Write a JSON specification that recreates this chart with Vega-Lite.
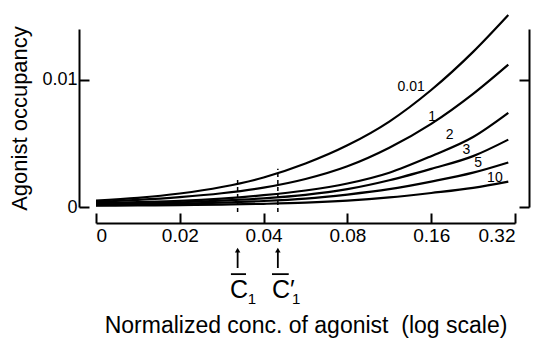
{
  "$schema": "https://vega.github.io/schema/vega-lite/v6.json",
  "autosize": "none",
  "width": 419,
  "height": 178,
  "padding": {"left": 96, "top": 29, "right": 21, "bottom": 137},
  "config": {
    "font": "Liberation Sans",
    "view": {"stroke": null},
    "axis": {"grid": false, "domainColor": "black", "tickColor": "black", "labelColor": "black", "titleColor": "black", "domainWidth": 2, "tickWidth": 2, "titleFontWeight": "normal"}
  },
  "resolve": {"axis": {"x": "independent", "y": "independent"}},
  "datasets": {
    "curves": [
      {"k": "0.01", "u": 0, "occ": 0.0005}, {"k": "0.01", "u": 0.5, "occ": 0.00072}, {"k": "0.01", "u": 1, "occ": 0.00106}, {"k": "0.01", "u": 1.5, "occ": 0.00157}, {"k": "0.01", "u": 2, "occ": 0.00232}, {"k": "0.01", "u": 2.5, "occ": 0.00342}, {"k": "0.01", "u": 3, "occ": 0.00485}, {"k": "0.01", "u": 3.5, "occ": 0.00672}, {"k": "0.01", "u": 4, "occ": 0.0092}, {"k": "0.01", "u": 4.5, "occ": 0.0122}, {"k": "0.01", "u": 4.92, "occ": 0.0151},
      {"k": "1", "u": 0, "occ": 0.0004}, {"k": "1", "u": 0.5, "occ": 0.00056}, {"k": "1", "u": 1, "occ": 0.00078}, {"k": "1", "u": 1.5, "occ": 0.00108}, {"k": "1", "u": 2, "occ": 0.00152}, {"k": "1", "u": 2.5, "occ": 0.0022}, {"k": "1", "u": 3, "occ": 0.0032}, {"k": "1", "u": 3.5, "occ": 0.00466}, {"k": "1", "u": 4, "occ": 0.00654}, {"k": "1", "u": 4.5, "occ": 0.0089}, {"k": "1", "u": 4.92, "occ": 0.0112},
      {"k": "2", "u": 0, "occ": 0.0003}, {"k": "2", "u": 0.5, "occ": 0.00038}, {"k": "2", "u": 1, "occ": 0.00048}, {"k": "2", "u": 1.5, "occ": 0.00066}, {"k": "2", "u": 2, "occ": 0.00093}, {"k": "2", "u": 2.5, "occ": 0.0013}, {"k": "2", "u": 3, "occ": 0.00185}, {"k": "2", "u": 3.5, "occ": 0.0027}, {"k": "2", "u": 4, "occ": 0.0040}, {"k": "2", "u": 4.5, "occ": 0.0055}, {"k": "2", "u": 4.92, "occ": 0.0074},
      {"k": "3", "u": 0, "occ": 0.0002}, {"k": "3", "u": 0.5, "occ": 0.00027}, {"k": "3", "u": 1, "occ": 0.00037}, {"k": "3", "u": 1.5, "occ": 0.0005}, {"k": "3", "u": 2, "occ": 0.00068}, {"k": "3", "u": 2.5, "occ": 0.00095}, {"k": "3", "u": 3, "occ": 0.0014}, {"k": "3", "u": 3.5, "occ": 0.0021}, {"k": "3", "u": 4, "occ": 0.0030}, {"k": "3", "u": 4.5, "occ": 0.0040}, {"k": "3", "u": 4.92, "occ": 0.0053},
      {"k": "5", "u": 0, "occ": 0.00015}, {"k": "5", "u": 0.5, "occ": 0.0002}, {"k": "5", "u": 1, "occ": 0.00027}, {"k": "5", "u": 1.5, "occ": 0.00035}, {"k": "5", "u": 2, "occ": 0.00047}, {"k": "5", "u": 2.5, "occ": 0.00066}, {"k": "5", "u": 3, "occ": 0.00098}, {"k": "5", "u": 3.5, "occ": 0.0014}, {"k": "5", "u": 4, "occ": 0.0020}, {"k": "5", "u": 4.5, "occ": 0.0027}, {"k": "5", "u": 4.92, "occ": 0.0035},
      {"k": "10", "u": 0, "occ": 0.0001}, {"k": "10", "u": 0.5, "occ": 0.00012}, {"k": "10", "u": 1, "occ": 0.00015}, {"k": "10", "u": 1.5, "occ": 0.00019}, {"k": "10", "u": 2, "occ": 0.00025}, {"k": "10", "u": 2.5, "occ": 0.00034}, {"k": "10", "u": 3, "occ": 0.0005}, {"k": "10", "u": 3.5, "occ": 0.00075}, {"k": "10", "u": 4, "occ": 0.0011}, {"k": "10", "u": 4.5, "occ": 0.0015}, {"k": "10", "u": 4.92, "occ": 0.002}
    ],
    "curveLabels": [
      {"u": 3.76, "occ": 0.00945, "text": "0.01"},
      {"u": 4.01, "occ": 0.0071, "text": "1"},
      {"u": 4.22, "occ": 0.0057, "text": "2"},
      {"u": 4.42, "occ": 0.0045, "text": "3"},
      {"u": 4.56, "occ": 0.0035, "text": "5"},
      {"u": 4.76, "occ": 0.0023, "text": "10"}
    ],
    "dashes": [
      {"u": 1.69, "lo": -0.0004, "hi": 0.0022},
      {"u": 2.17, "lo": -0.0004, "hi": 0.003}
    ],
    "arrows": [
      {"u": 1.69, "lo": -0.0048, "hi": -0.0035, "tip": -0.0034},
      {"u": 2.17, "lo": -0.0048, "hi": -0.0035, "tip": -0.0034}
    ],
    "bigC": [
      {"u": 1.6, "y": -0.00717, "text": "C"},
      {"u": 2.1, "y": -0.00717, "text": "C′"}
    ],
    "subs": [
      {"u": 1.86, "y": -0.0076, "text": "1"},
      {"u": 2.39, "y": -0.0076, "text": "1"}
    ],
    "bars": [
      {"u1": 1.61, "u2": 1.79, "y": -0.00528},
      {"u1": 2.1, "u2": 2.3, "y": -0.00528}
    ],
    "ext": [{"occ": 0}, {"occ": 0.014}]
  },
  "layer": [
    {
      "data": {"name": "curves"},
      "mark": {"type": "line", "interpolate": "monotone", "strokeWidth": 2.2, "color": "black"},
      "encoding": {
        "x": {"field": "u", "type": "quantitative",
          "scale": {"domain": [0, 5], "nice": false, "zero": false},
          "axis": {"values": [0, 1, 2, 3, 4, 5], "labelExpr": "['0','0.02','0.04','0.08','0.16','0.32'][datum.value]", "offset": 16, "tickSize": -10, "labelPadding": 13, "labelFontSize": 19, "title": "Normalized conc. of agonist\u00a0 (log scale)", "titleFontSize": 23, "titlePadding": 69}},
        "y": {"field": "occ", "type": "quantitative",
          "scale": {"domain": [0, 0.014], "nice": false},
          "axis": {"orient": "left", "values": [0, 0.01], "labelExpr": "datum.value == 0 ? '0' : '0.01'", "offset": 17, "tickSize": -10, "labelPadding": 12, "labelFontSize": 18, "title": "Agonist occupancy", "titleFontSize": 22, "titlePadding": 10}},
        "detail": {"field": "k"}
      }
    },
    {
      "data": {"name": "ext"},
      "mark": {"type": "point", "opacity": 0},
      "encoding": {
        "y": {"field": "occ", "type": "quantitative",
          "axis": {"orient": "right", "values": [0, 0.01], "labels": false, "offset": 14, "tickSize": -10, "title": null}}
      }
    },
    {
      "data": {"name": "curveLabels"},
      "mark": {"type": "text", "fontSize": 14, "color": "black"},
      "encoding": {
        "x": {"field": "u", "type": "quantitative", "axis": null},
        "y": {"field": "occ", "type": "quantitative", "axis": null},
        "text": {"field": "text"}
      }
    },
    {
      "data": {"name": "dashes"},
      "mark": {"type": "rule", "strokeWidth": 1.5, "strokeDash": [4, 3], "color": "black"},
      "encoding": {
        "x": {"field": "u", "type": "quantitative", "axis": null},
        "y": {"field": "lo", "type": "quantitative", "axis": null},
        "y2": {"field": "hi"}
      }
    },
    {
      "data": {"name": "arrows"},
      "mark": {"type": "rule", "strokeWidth": 1.8, "color": "black"},
      "encoding": {
        "x": {"field": "u", "type": "quantitative", "axis": null},
        "y": {"field": "lo", "type": "quantitative", "axis": null},
        "y2": {"field": "hi"}
      }
    },
    {
      "data": {"name": "arrows"},
      "mark": {"type": "point", "shape": "triangle-up", "filled": true, "size": 30, "color": "black", "opacity": 1},
      "encoding": {
        "x": {"field": "u", "type": "quantitative", "axis": null},
        "y": {"field": "tip", "type": "quantitative", "axis": null}
      }
    },
    {
      "data": {"name": "bigC"},
      "mark": {"type": "text", "fontSize": 25, "align": "left", "baseline": "alphabetic", "color": "black"},
      "encoding": {
        "x": {"field": "u", "type": "quantitative", "axis": null},
        "y": {"field": "y", "type": "quantitative", "axis": null},
        "text": {"field": "text"}
      }
    },
    {
      "data": {"name": "subs"},
      "mark": {"type": "text", "fontSize": 15, "align": "center", "baseline": "alphabetic", "color": "black"},
      "encoding": {
        "x": {"field": "u", "type": "quantitative", "axis": null},
        "y": {"field": "y", "type": "quantitative", "axis": null},
        "text": {"field": "text"}
      }
    },
    {
      "data": {"name": "bars"},
      "mark": {"type": "rule", "strokeWidth": 1.8, "color": "black"},
      "encoding": {
        "x": {"field": "u1", "type": "quantitative", "axis": null},
        "x2": {"field": "u2"},
        "y": {"field": "y", "type": "quantitative", "axis": null}
      }
    }
  ]
}
